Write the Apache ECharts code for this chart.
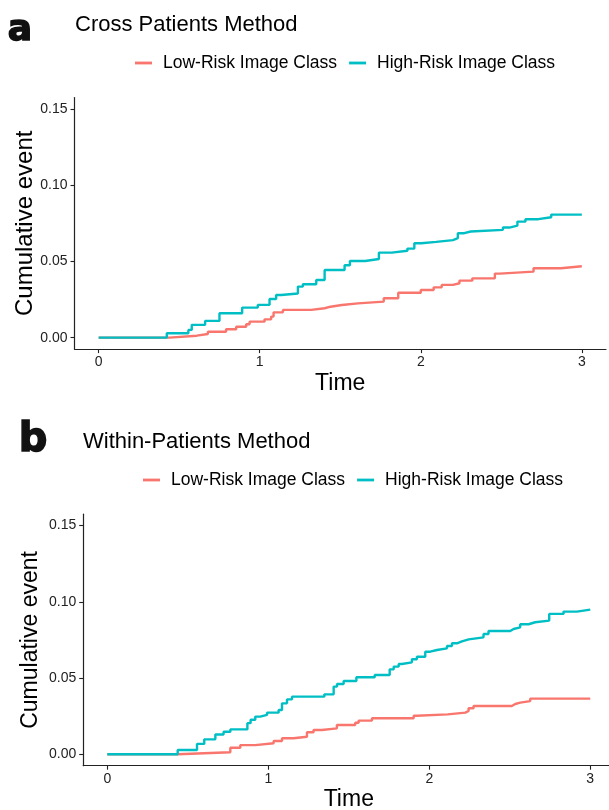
<!DOCTYPE html>
<html>
<head>
<meta charset="utf-8">
<script src="https://cdn.jsdelivr.net/npm/echarts@6/dist/echarts.min.js"></script>
<style>
  html, body { margin: 0; padding: 0; background: #fff; }
  #chart { width: 609px; height: 810px; }
</style>
</head>
<body>
<div id="chart"></div>
<script>
// series names
var seriesNames = ['Low-Risk Image Class', 'High-Risk Image Class'];
var xTicks = [0, 1, 2, 3];
var yTicks = [0, 0.05, 0.10, 0.15];

// panel a - Cross Patients Method
var crossLowTime = [0, 0.44, 0.609, 0.678, 0.791, 0.854, 0.916, 0.937, 1.03, 1.071, 1.086, 1.144, 1.32, 1.403, 1.44, 1.51, 1.61, 1.77, 1.86, 2.0, 2.08, 2.13, 2.2, 2.24, 2.32, 2.46, 2.49, 2.7, 2.87, 3.0];
var crossLowCum = [0, 0.0013, 0.0024, 0.0039, 0.0055, 0.0072, 0.0088, 0.0105, 0.012, 0.0138, 0.0166, 0.0182, 0.0193, 0.0203, 0.0214, 0.0225, 0.0236, 0.0258, 0.0295, 0.0313, 0.033, 0.0346, 0.0357, 0.0374, 0.0389, 0.042, 0.0433, 0.0455, 0.0468, 0.0468];
var crossHighTime = [0, 0.423, 0.557, 0.578, 0.661, 0.75, 0.891, 0.988, 1.061, 1.102, 1.133, 1.237, 1.268, 1.351, 1.403, 1.527, 1.56, 1.655, 1.74, 1.82, 1.917, 1.96, 2.003, 2.096, 2.2, 2.23, 2.27, 2.31, 2.51, 2.55, 2.6, 2.65, 2.73, 2.81, 3.0];
var crossHighCum = [0, 0.0029, 0.0051, 0.0084, 0.011, 0.016, 0.0197, 0.0215, 0.0254, 0.028, 0.029, 0.0335, 0.035, 0.0378, 0.0444, 0.0475, 0.0503, 0.0516, 0.0558, 0.057, 0.0584, 0.0619, 0.0628, 0.064, 0.0652, 0.0685, 0.0696, 0.0707, 0.0722, 0.0735, 0.0761, 0.0777, 0.079, 0.0807, 0.0807];

// panel b - Within-Patients Method
var withinLowTime = [0, 0.437, 0.764, 0.826, 0.919, 1.033, 1.085, 1.157, 1.24, 1.281, 1.333, 1.426, 1.54, 1.561, 1.644, 1.903, 1.923, 2.114, 2.224, 2.244, 2.275, 2.513, 2.534, 2.565, 2.627, 3.0];
var withinLowCum = [0, 0.0013, 0.0043, 0.006, 0.0072, 0.0087, 0.0105, 0.0115, 0.0144, 0.0159, 0.017, 0.0192, 0.0207, 0.0221, 0.0236, 0.0253, 0.0262, 0.0273, 0.0284, 0.0302, 0.0317, 0.033, 0.0339, 0.0349, 0.0365, 0.0365];
var withinHighTime = [0, 0.437, 0.557, 0.602, 0.671, 0.722, 0.764, 0.87, 0.89, 0.919, 0.95, 0.992, 1.064, 1.085, 1.116, 1.147, 1.348, 1.406, 1.427, 1.468, 1.547, 1.661, 1.754, 1.779, 1.81, 1.83, 1.892, 1.923, 1.975, 2.006, 2.048, 2.11, 2.141, 2.172, 2.203, 2.245, 2.337, 2.368, 2.503, 2.524, 2.565, 2.617, 2.658, 2.745, 2.834, 2.917, 3.0];
var withinHighCum = [0, 0.0028, 0.0068, 0.0098, 0.013, 0.0148, 0.0163, 0.0204, 0.0226, 0.0247, 0.0258, 0.0273, 0.029, 0.0334, 0.036, 0.0378, 0.0393, 0.0444, 0.0461, 0.0481, 0.0505, 0.052, 0.0557, 0.0575, 0.0592, 0.0603, 0.0623, 0.064, 0.0673, 0.0684, 0.0695, 0.071, 0.0728, 0.0741, 0.0754, 0.0767, 0.0789, 0.0809, 0.0822, 0.0833, 0.0853, 0.0866, 0.0877, 0.0921, 0.0936, 0.0949, 0.0949];

var colors = ['#F8766D', '#00BFC4'];
var font = 'Liberation Sans, Arial, sans-serif';
var axisColor = '#222';

function zip(t, v) {
  return t.map(function (x, i) { return [x, v[i]]; });
}

function xAxisFor(idx) {
  return {
    type: 'value', gridIndex: idx, min: -0.15, max: 3.15,
    name: 'Time', nameLocation: 'middle', nameGap: idx === 0 ? 23 : 22,
    nameMoveOverlap: false,
    nameTextStyle: { fontFamily: font, fontSize: 23, color: '#000' },
    splitLine: { show: false },
    axisLine: { onZero: false, lineStyle: { color: axisColor, width: 1.2 } },
    axisTick: { customValues: xTicks, length: 4, lineStyle: { color: axisColor, width: 1.1 } },
    axisLabel: { customValues: xTicks, margin: 6, fontFamily: font, fontSize: 14, color: '#222' }
  };
}

function yAxisFor(idx) {
  return {
    type: 'value', gridIndex: idx, min: -0.0075, max: 0.1575,
    name: 'Cumulative event', nameLocation: 'middle', nameGap: idx === 0 ? 37.5 : 41,
    nameMoveOverlap: false,
    nameTextStyle: { fontFamily: font, fontSize: idx === 0 ? 24 : 23, color: '#000' },
    splitLine: { show: false },
    axisLine: { show: true, onZero: false, lineStyle: { color: axisColor, width: 1.2 } },
    axisTick: { show: true, customValues: yTicks, length: 4, lineStyle: { color: axisColor, width: 1.1 } },
    axisLabel: {
      customValues: yTicks, margin: 7, fontFamily: font, fontSize: 14, color: '#222',
      formatter: function (v) { return v.toFixed(2); }
    }
  };
}

function lineSeries(name, idx, t, v, c) {
  return {
    name: name, type: 'line', xAxisIndex: idx, yAxisIndex: idx,
    step: 'end', showSymbol: false, symbol: 'none', animation: false,
    data: zip(t, v),
    color: c,
    lineStyle: { color: c, width: 2.4 }
  };
}

function legendFor(left, top) {
  return {
    left: left, top: top, padding: 0, itemGap: 12,
    icon: 'rect', itemWidth: 17, itemHeight: 2.8,
    data: seriesNames,
    textStyle: { fontFamily: font, fontSize: 17.5, color: '#000', padding: [0, 0, 0, 6] }
  };
}

var chart = echarts.init(document.getElementById('chart'), null, { renderer: 'canvas' });

var option = {
  backgroundColor: '#fff',
  animation: false,
  title: [
    { text: 'Cross Patients Method', left: 75, top: 14, padding: 0,
      textStyle: { fontFamily: font, fontSize: 22, fontWeight: 'normal', color: '#000' } },
    { text: 'Within-Patients Method', left: 83, top: 430.5, padding: 0,
      textStyle: { fontFamily: font, fontSize: 22, fontWeight: 'normal', color: '#000' } }
  ],
  legend: [legendFor(135, 54), legendFor(143, 471)],
  grid: [
    { left: 74.5, top: 97.5, width: 531.5, height: 251.6, outerBoundsMode: 'none' },
    { left: 83.2, top: 514.2, width: 531.2, height: 251.5, outerBoundsMode: 'none' }
  ],
  xAxis: [xAxisFor(0), xAxisFor(1)],
  yAxis: [yAxisFor(0), yAxisFor(1)],
  series: [
    lineSeries(seriesNames[0], 0, crossLowTime, crossLowCum, colors[0]),
    lineSeries(seriesNames[1], 0, crossHighTime, crossHighCum, colors[1]),
    lineSeries(seriesNames[0], 1, withinLowTime, withinLowCum, colors[0]),
    lineSeries(seriesNames[1], 1, withinHighTime, withinHighCum, colors[1])
  ],
  graphic: [
    { type: 'text', left: 7, top: 12,
      style: { text: 'a', fontFamily: 'DejaVu Sans', fontWeight: 'bold', fontSize: 36,
        fill: '#111', stroke: '#111', lineWidth: 1.5 } },
    { type: 'text', left: 18, top: 420,
      style: { text: 'b', fontFamily: 'DejaVu Sans', fontWeight: 'bold', fontSize: 40,
        fill: '#111', stroke: '#111', lineWidth: 1.5 } }
  ]
};

chart.setOption(option);
</script>
</body>
</html>
